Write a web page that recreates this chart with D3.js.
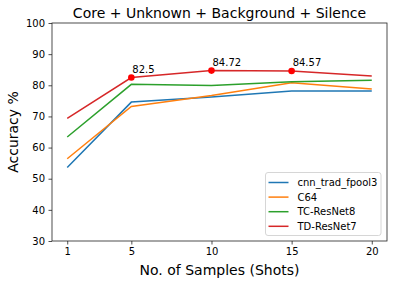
<!DOCTYPE html>
<html>
<head>
<style>
  body { margin: 0; background: #fff; }
  text { font-family: "DejaVu Sans", sans-serif; fill: #000; }
</style>
</head>
<body>
<script src="https://cdn.jsdelivr.net/npm/d3@7"></script>
<script>
var shots = [1, 5, 10, 15, 20];
var xTicks = [1, 5, 10, 15, 20];
var yTicks = [30, 40, 50, 60, 70, 80, 90, 100];
var names = ["cnn_trad_fpool3", "C64", "TC-ResNet8", "TD-ResNet7"];
var colors = ["#1f77b4", "#ff7f0e", "#2ca02c", "#d62728"];
var cnnVals = [53.6, 74.6, 76.2, 78.2, 78.2];
var c64Vals = [56.4, 73.2, 76.7, 80.8, 78.8];
var tcVals = [63.4, 80.3, 79.9, 81.1, 81.6];
var tdVals = [69.4, 82.5, 84.72, 84.57, 83.0];
var marked = [1, 2, 3]; // indexes of TD-ResNet7 points that get a dot and label
var series = [cnnVals, c64Vals, tcVals, tdVals];

var width = 393, height = 283;
var plotL = 52, plotR = 387, plotT = 23, plotB = 241;

var svg = d3.select("body").append("svg")
    .attr("width", width)
    .attr("height", height);

var x = d3.scaleLinear().domain([0.05, 20.95]).range([plotL, plotR]);
var y = d3.scaleLinear().domain([30, 100]).range([plotB, plotT]);

// axes
var xAxis = svg.append("g")
    .attr("transform", "translate(0," + plotB + ")")
    .call(d3.axisBottom(x).tickValues(xTicks).tickSize(3.5).tickPadding(3.5).tickFormat(d3.format("d")));
var yAxis = svg.append("g")
    .attr("transform", "translate(" + plotL + ",0)")
    .call(d3.axisLeft(y).tickValues(yTicks).tickSize(3.5).tickPadding(3.5).tickFormat(d3.format("d")));
[xAxis, yAxis].forEach(function (g) {
    g.select(".domain").remove();
    g.selectAll("line").attr("stroke", "#222").attr("stroke-width", 0.8);
    g.selectAll("text").attr("font-size", 10).attr("fill", "#222")
        .style("font-family", "'DejaVu Sans', sans-serif");
});

// lines
var line = d3.line()
    .x(function (d, i) { return x(shots[i]); })
    .y(function (d) { return y(d); });

svg.selectAll("path.series")
    .data(series)
    .enter()
    .append("path")
    .attr("class", "series")
    .attr("d", line)
    .attr("fill", "none")
    .attr("stroke", function (d, i) { return colors[i]; })
    .attr("stroke-width", 1.5);

// marked points on TD-ResNet7
svg.selectAll("circle.mark")
    .data(marked)
    .enter()
    .append("circle")
    .attr("class", "mark")
    .attr("cx", function (i) { return x(shots[i]); })
    .attr("cy", function (i) { return y(tdVals[i]); })
    .attr("r", 3.3)
    .attr("fill", "red");

svg.selectAll("text.mark")
    .data(marked)
    .enter()
    .append("text")
    .attr("class", "mark")
    .attr("x", function (i) { return x(shots[i]) + 1; })
    .attr("y", function (i) { return y(tdVals[i]) - 5; })
    .attr("font-size", 10)
    .text(function (i) { return tdVals[i]; });

// frame
svg.append("rect")
    .attr("x", plotL).attr("y", plotT)
    .attr("width", plotR - plotL).attr("height", plotB - plotT)
    .attr("fill", "none").attr("stroke", "#222").attr("stroke-width", 0.8);

// title and labels
svg.append("text")
    .attr("x", (plotL + plotR) / 2).attr("y", 18)
    .attr("text-anchor", "middle").attr("font-size", 14)
    .text("Core + Unknown + Background + Silence");
svg.append("text")
    .attr("x", (plotL + plotR) / 2).attr("y", 275)
    .attr("text-anchor", "middle").attr("font-size", 14)
    .text("No. of Samples (Shots)");
svg.append("text")
    .attr("transform", "translate(17.5," + (plotT + plotB) / 2 + ") rotate(-90)")
    .attr("text-anchor", "middle").attr("font-size", 14)
    .text("Accuracy %");

// legend
var lg = svg.append("g").attr("transform", "translate(265.5,172.5)");
lg.append("rect")
    .attr("width", 115.5).attr("height", 63)
    .attr("rx", 2.5)
    .attr("fill", "#fff").attr("fill-opacity", 0.8)
    .attr("stroke", "#ccc").attr("stroke-width", 0.8);
var items = lg.selectAll("g.item")
    .data(names)
    .enter()
    .append("g")
    .attr("class", "item")
    .attr("transform", function (d, i) { return "translate(0," + (10 + i * 14.6) + ")"; });
items.append("line")
    .attr("x1", 3).attr("x2", 23)
    .attr("stroke", function (d, i) { return colors[i]; })
    .attr("stroke-width", 1.5);
items.append("text")
    .attr("x", 32).attr("y", 3.6)
    .attr("font-size", 10)
    .text(function (d) { return d; });
</script>
</body>
</html>
